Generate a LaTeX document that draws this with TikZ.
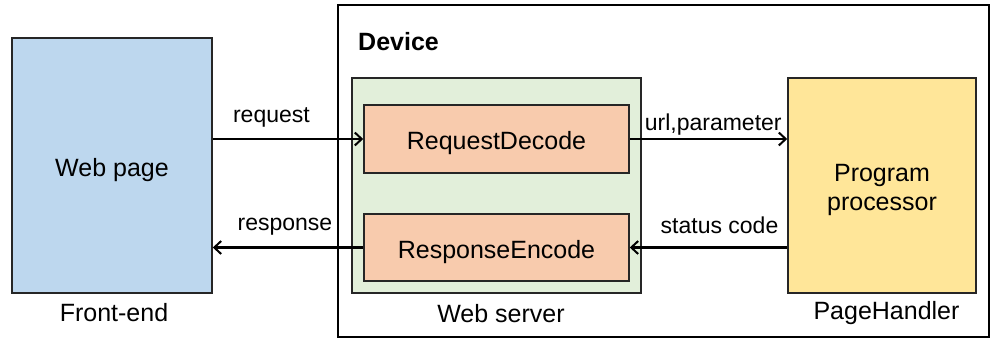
\documentclass[tikz,border=0pt]{standalone}
\usepackage{fontspec}
\setmainfont{Liberation Sans}
\usetikzlibrary{arrows.meta}
\definecolor{pageblue}{HTML}{BDD7EE}
\definecolor{servergreen}{HTML}{E2EFDA}
\definecolor{codecsalmon}{HTML}{F8CBAD}
\definecolor{handleryellow}{HTML}{FFE699}
\begin{document}
\begin{tikzpicture}[x=1pt,y=-1pt,
  box/.style={draw=black!85,line width=1.5pt,inner sep=0pt},
  link/.style={line width=2.3pt,-{Straight Barb[length=7pt,width=13pt,line width=2pt]}},
  lbl/.style={font=\fontsize{23}{27}\selectfont,inner sep=0pt,anchor=base},
  txt/.style={font=\fontsize{25}{29}\selectfont,align=center},
  boxtxt/.style={txt,text height=26pt,text depth=5pt}]
\useasboundingbox (0,0) rectangle (994,338);
% outer frame and the blocks inside it
\node[box,draw=black,line width=1.2pt,minimum width=651pt,minimum height=332pt] (device) at (663.5,171) {};
\node[txt,font=\fontsize{25}{29}\selectfont\bfseries,anchor=base west,inner sep=0pt] (devlbl) at (358,50) {Device};
\node[box,fill=pageblue,minimum width=200pt,minimum height=255pt,boxtxt] (page) at (112,165.5) {Web page};
\node[box,fill=servergreen,minimum width=289pt,minimum height=215pt] (server) at (496.5,185.5) {};
\node[box,fill=codecsalmon,minimum width=265pt,minimum height=68pt,boxtxt] (req) at (496.5,139) {RequestDecode};
\node[box,fill=codecsalmon,minimum width=265pt,minimum height=67pt,boxtxt] (resp) at (496.5,247.5) {ResponseEncode};
\node[box,fill=handleryellow,minimum width=188pt,minimum height=215pt,txt] (proc) at (882,185.5) {\rule{0pt}{26pt}Program\\processor};
% captions under the blocks
\node[txt,anchor=base,inner sep=0pt] (fe) at (114,321) {Front-end};
\node[txt,anchor=base,inner sep=0pt] (ws) at (501,322) {Web server};
\node[txt,anchor=base,inner sep=0pt] (ph) at (886.5,319) {PageHandler};
% messages between the blocks
\draw[link] (page.east |- req.west) -- (req.west) node[lbl,pos=0.39,yshift=17pt]{request};
\draw[link] (resp.west) -- (page.east |- resp.west) node[lbl,pos=0.52,yshift=17.5pt]{response};
\draw[link] (req.east) -- (proc.west |- req.east) node[lbl,pos=0.53,yshift=9pt]{url,parameter};
\draw[link] (proc.west |- resp.east) -- (resp.east) node[lbl,pos=0.43,yshift=14pt]{status code};
\end{tikzpicture}
\end{document}
